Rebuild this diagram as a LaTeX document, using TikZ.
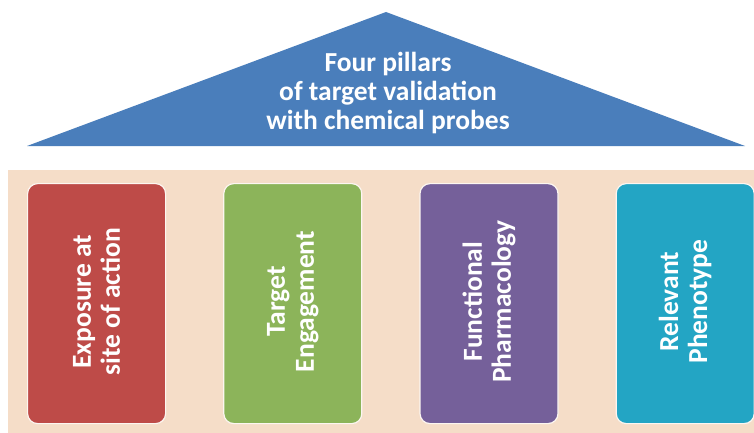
\documentclass[tikz,border=0pt]{standalone}
\usepackage{fontspec}
\setmainfont{Carlito}
\usetikzlibrary{positioning}

\definecolor{roofblue}{RGB}{74,126,187}
\definecolor{peach}{RGB}{245,221,200}
\definecolor{pillarred}{RGB}{190,75,72}
\definecolor{pillargreen}{RGB}{140,180,90}
\definecolor{pillarpurple}{RGB}{117,96,154}
\definecolor{pillarcyan}{RGB}{35,165,196}

\tikzset{
  pillar/.style={rectangle, rounded corners=10pt, minimum width=138pt,
    minimum height=240pt, draw=white!75!peach, line width=1.2pt},
  pillartext/.style={rotate=90, align=center, text=white,
    font=\fontsize{27.5}{29}\selectfont\bfseries},
}

\begin{document}
\begin{tikzpicture}[x=1pt, y=-1pt, node distance=57pt]

  \useasboundingbox (0,0) rectangle (754,433);

  % base band
  \node (band) [fill=peach, minimum width=746pt, minimum height=263pt,
    anchor=north west, inner sep=0pt] at (8,170) {};

  % roof
  \coordinate (top) at (386,12);
  \coordinate (left) at (27,146);
  \coordinate (right) at (745,146);
  \fill[roofblue] (top) -- (right) -- (left) -- cycle;
  \node (roof) [align=center, text=white,
    font=\fontsize{27.5}{29}\selectfont\bfseries] at (388,93)
    {Four pillars\\of target validation\\with chemical probes};

  % pillars
  \node (A) [pillar, fill=pillarred, anchor=north west] at (27,183) {};
  \node (B) [pillar, fill=pillargreen, right=of A] {};
  \node (C) [pillar, fill=pillarpurple, right=of B] {};
  \node (D) [pillar, fill=pillarcyan, right=of C] {};

  \node (A1) [pillartext] at ([yshift=2pt]A) {Exposure at\\site of action};
  \node (B1) [pillartext] at ([yshift=2pt]B) {Target\\Engagement};
  \node (C1) [pillartext] at ([yshift=2pt]C) {Functional\\Pharmacology};
  \node (D1) [pillartext] at ([yshift=2pt]D) {Relevant\\Phenotype};

\end{tikzpicture}
\end{document}
